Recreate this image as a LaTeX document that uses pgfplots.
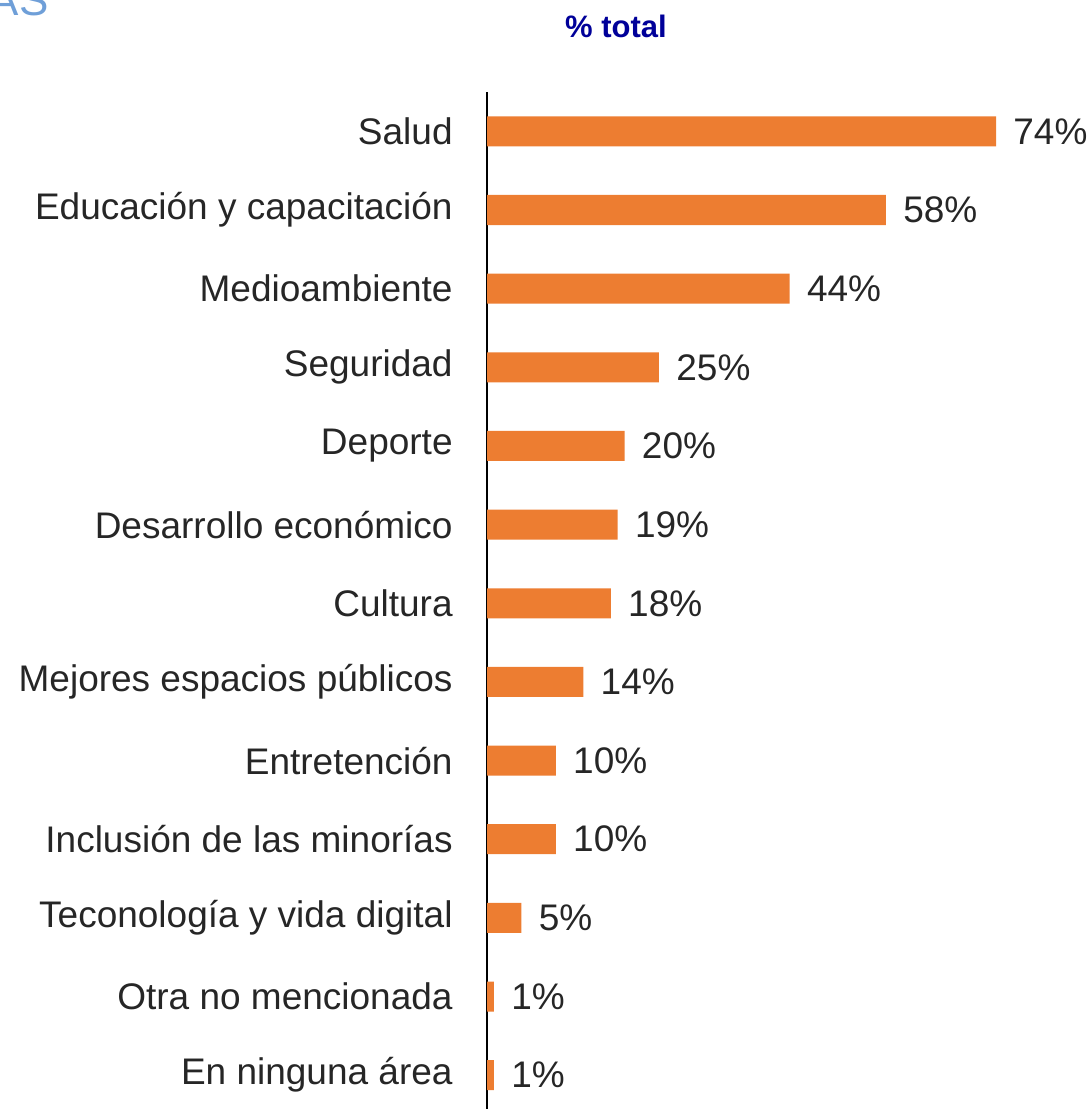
\documentclass[border=0pt]{standalone}
\usepackage{pgfplots}
\pgfplotsset{compat=1.18}
\usepackage{fontspec}
\setmainfont{Liberation Sans}
\definecolor{barorange}{HTML}{ED7D31}
\definecolor{txt}{HTML}{262626}
\definecolor{ttl}{HTML}{000099}
\definecolor{lblue}{HTML}{6F9FD8}
\begin{document}
\begin{tikzpicture}[x=1pt,y=1pt]
\useasboundingbox (0,0) rectangle (545.5,-554.5);
\node[anchor=base east, inner sep=0pt, text=lblue, font=\fontsize{22}{26}\selectfont] at (24.5,-7.5) {AS};
\node[anchor=center, inner sep=0pt, text=ttl, font=\fontsize{15.5}{18}\selectfont\bfseries] at (308,-13) {\% total};
\begin{axis}[
  at={(243.5pt,-46pt)}, anchor=north west,
  scale only axis, width=254.5pt, height=508.5pt,
  xmin=0, xmax=74,
  ymin=-0.5, ymax=12.43, y dir=reverse,
  xbar, bar width=15pt, bar shift=0pt,
  axis x line=none,
  axis y line*=left,
  y axis line style={black, line width=0.9pt, -},
  ytick={0,...,12}, major tick length=0pt,
  yticklabels={Salud,Educación y capacitación,Medioambiente,Seguridad,Deporte,Desarrollo económico,Cultura,Mejores espacios públicos,Entretención,Inclusión de las minorías,Teconología y vida digital,Otra no mencionada,En ninguna área},
  yticklabel style={font=\fontsize{18.5}{22}\selectfont, text=txt, inner sep=0pt, xshift=-17pt},
  /pgf/number format/assume math mode=true,
  nodes near coords={\pgfmathprintnumber{\pgfplotspointmeta}\%},
  nodes near coords style={font=\fontsize{18.5}{22}\selectfont, text=txt, anchor=west, inner sep=0pt, xshift=8.5pt},
  point meta=explicit,
  clip=false,
]
\addplot[fill=barorange, draw=none] coordinates {
(74,0) [74]
(58,1) [58]
(44,2) [44]
(25,3) [25]
(20,4) [20]
(19,5) [19]
(18,6) [18]
(14,7) [14]
(10,8) [10]
(10,9) [10]
(5,10) [5]
(1,11) [1]
(1,12) [1]
};
\end{axis}
\end{tikzpicture}
\end{document}
